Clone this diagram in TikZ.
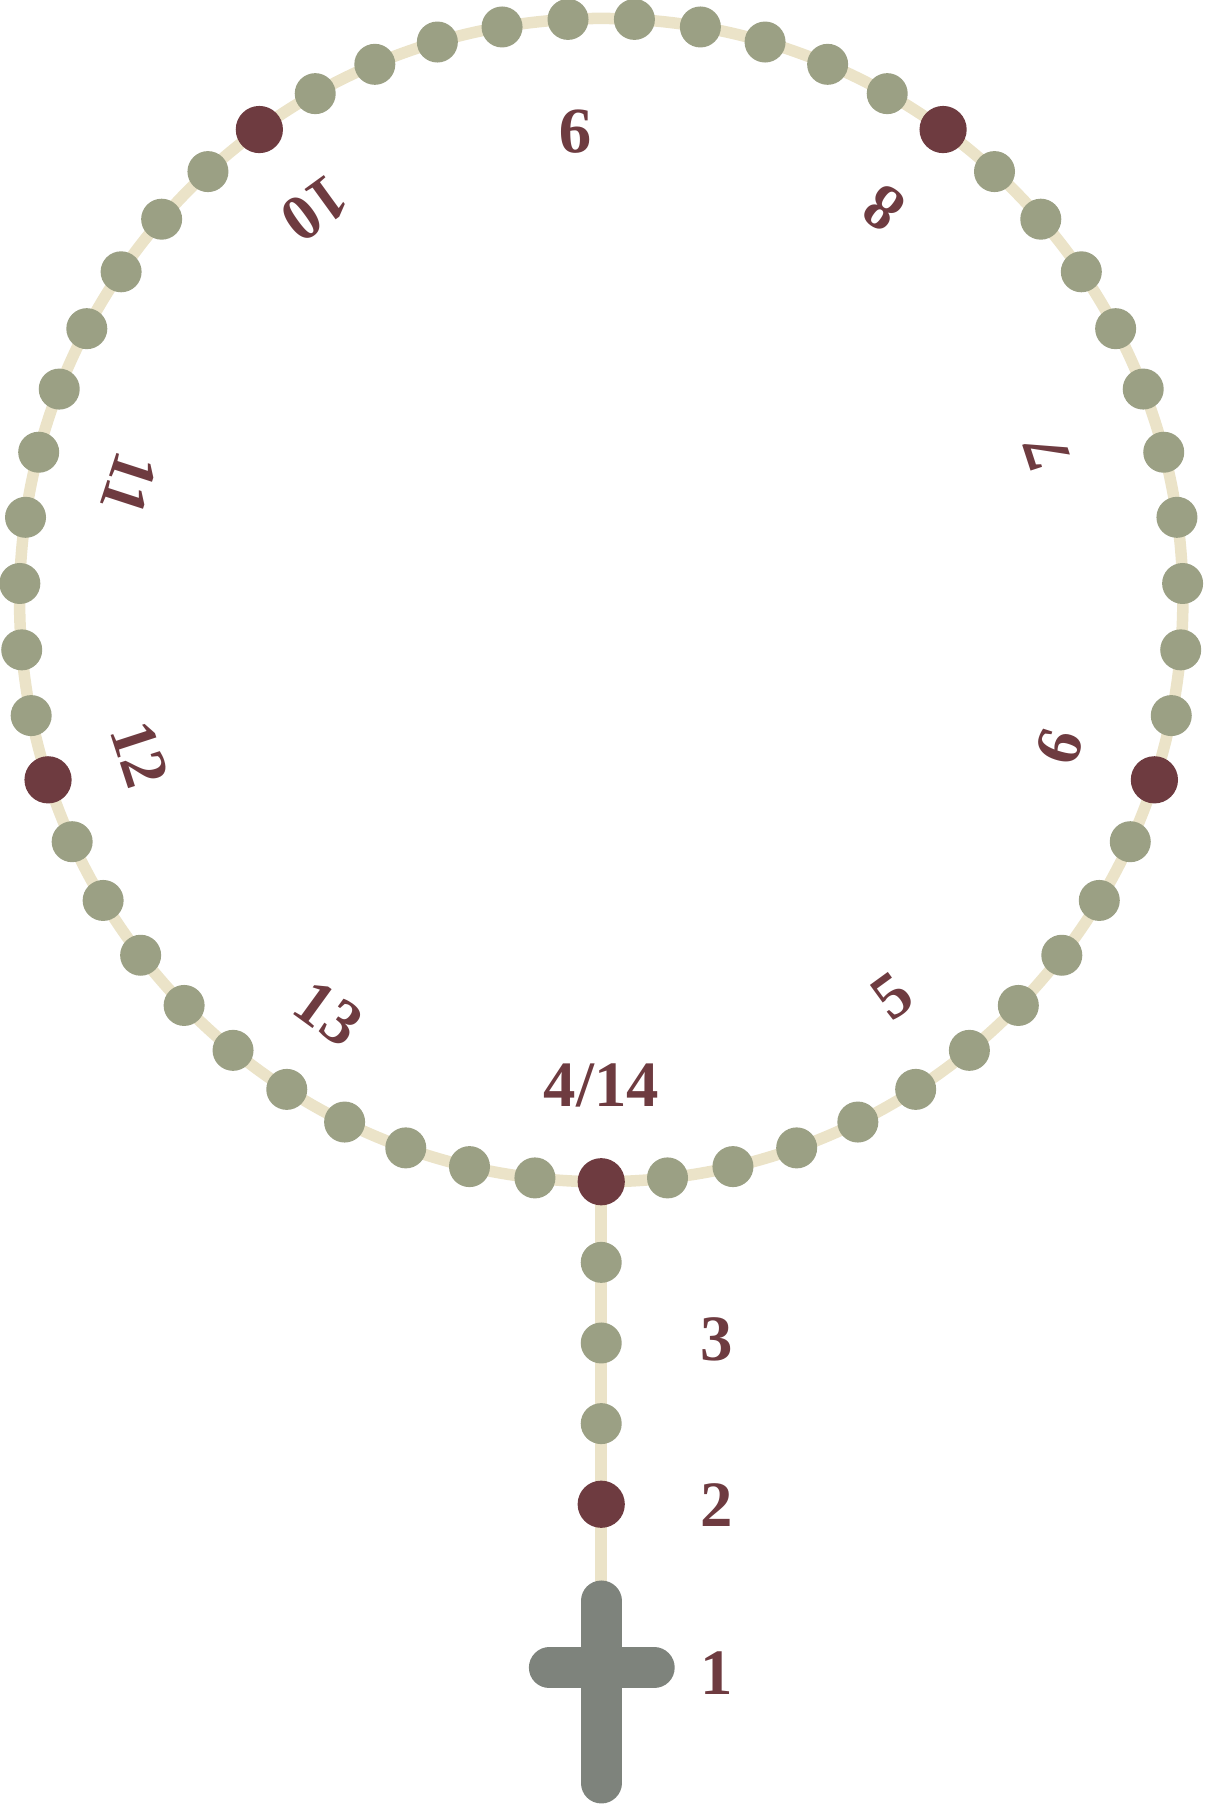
\documentclass[tikz,border=0pt]{standalone}
\usepackage{fontspec}
\setmainfont{Liberation Serif}
\definecolor{cordbeige}{HTML}{EBE3C8}
\definecolor{avegreen}{HTML}{9BA084}
\definecolor{paterred}{HTML}{6E3B40}
\definecolor{crossgray}{HTML}{7E837C}

\begin{document}
\begin{tikzpicture}[x=0.1mm, y=0.1mm,
  cord/.style={draw=cordbeige, line width=1mm},
  ave/.style={circle, fill=avegreen, inner sep=0pt, minimum size=3.56mm},
  pater/.style={circle, fill=paterred, inner sep=0pt, minimum size=4.1mm},
  num/.style={text=paterred, inner sep=0pt, font=\fontsize{16}{19}\selectfont\bfseries}]
\useasboundingbox (-522, -1047) rectangle (524, 521);
\draw [cord] (0, 0) circle (505);
\coordinate (crosstop) at (0, -869);
\coordinate (crossbottom) at (0, -1027);
\coordinate (crossleft) at (-45, -927);
\coordinate (crossright) at (46, -927);
\draw [cord] (0, -505) -- (crosstop);
\foreach \i in {0,...,54} {
  \pgfmathtruncatemacro\r{mod(\i, 11)}
  \ifnum\r=0
    \node [pater] (b\i) at ({270 + \i*6.545454}:505) {};
  \else
    \node [ave] (b\i) at ({270 + \i*6.545454}:505) {};
  \fi
}
\node [ave] (s1) at (0, -575) {};
\node [ave] (s2) at (0, -645) {};
\node [ave] (s3) at (0, -715) {};
\node [pater] (s4) at (0, -785) {};
\draw [crossgray, line width=3.56mm, line cap=round] (crosstop) -- (crossbottom);
\draw [crossgray, line width=3.56mm, line cap=round] (crossleft) -- (crossright);
\node [num] (l1) at (100, -932) {1};
\node [num] (l2) at (100, -786) {2};
\node [num] (l3) at (100, -642) {3};
\node [num] (l4) at (0, -421) {4/14};
\node [num, rotate=36] (l5) at (-53.7:427) {5};
\node [num, rotate=72] (l6) at (-17.7:418) {6};
\node [num, rotate=108] (l7) at (18.3:408) {7};
\node [num, rotate=144] (l8) at (54.2:420) {8};
\node [num, rotate=180] (l9) at (93.2:407) {9};
\node [num, rotate=216] (l10) at (126.2:421) {10};
\node [num, rotate=252] (l11) at (166.2:422) {11};
\node [num, rotate=288] (l12) at (198.5:422) {12};
\node [num, rotate=324] (l13) at (236.6:430) {13};
\end{tikzpicture}
\end{document}
